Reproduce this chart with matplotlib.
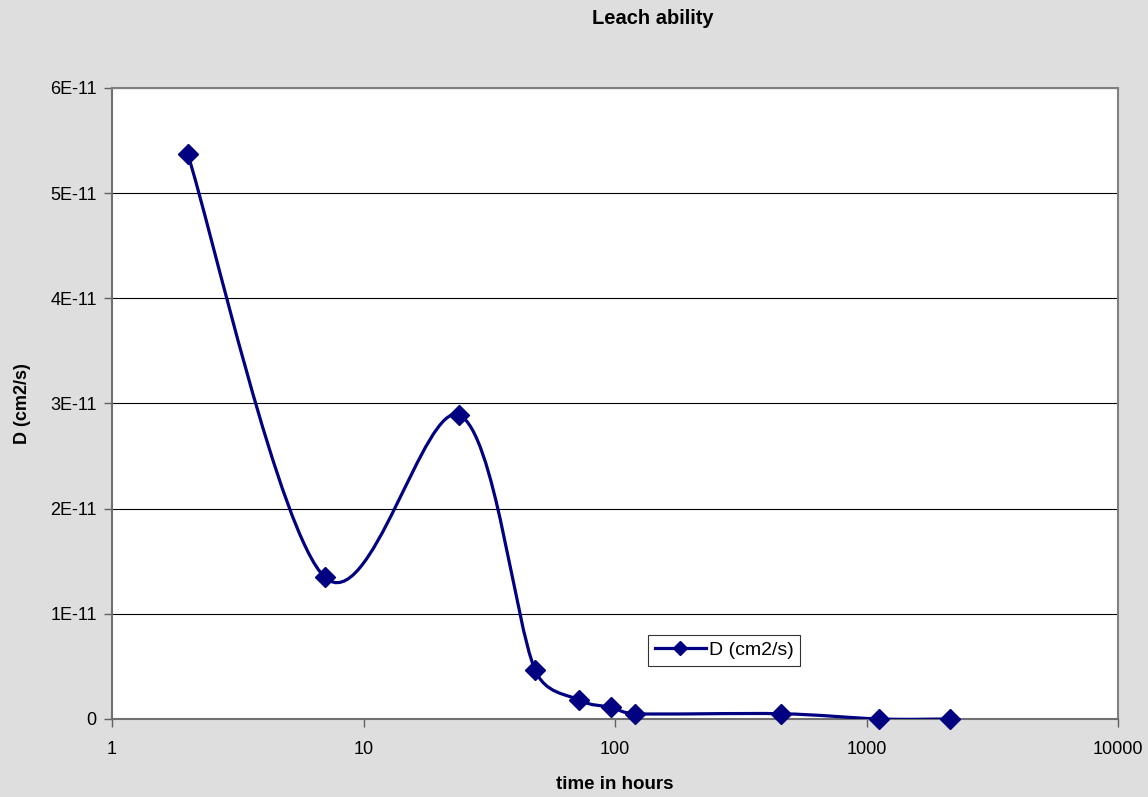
import numpy as np
import matplotlib
matplotlib.use("Agg")
import matplotlib.pyplot as plt
from matplotlib.path import Path
from matplotlib.patches import PathPatch
from matplotlib.lines import Line2D
from matplotlib.ticker import FixedLocator, FixedFormatter, NullLocator

plt.rcParams['font.family'] = ['Liberation Sans', 'DejaVu Sans']

# data
time_hours = [2, 7, 24, 48, 72, 96, 120, 456, 1120, 2150]
diff_coef = [5.37e-11, 1.35e-11, 2.89e-11, 0.47e-11, 0.18e-11, 0.11e-11,
             0.05e-11, 0.05e-11, 0.0, 0.0]
y_ticks = [0, 1e-11, 2e-11, 3e-11, 4e-11, 5e-11, 6e-11]
y_tick_labels = ['0', '1E-11', '2E-11', '3E-11', '4E-11', '5E-11', '6E-11']
x_ticks = [1, 10, 100, 1000, 10000]
x_tick_labels = ['1', '10', '100', '1000', '10000']

navy = '#000080'
bg = '#dedede'

fig = plt.figure(figsize=(11.48, 7.97), dpi=100, facecolor=bg)
ax = fig.add_axes([0.0976, 0.0979, 0.8763, 0.7917])
ax.set_facecolor('white')
ax.set_xscale('log')
ax.set_xlim(1, 10000)
ax.set_ylim(0, 6e-11)

# Excel-style smoothed line: bezier segments built in display space,
# handle length 1/6 of the chord, capped at half the segment length
pts = ax.transData.transform(np.column_stack([time_hours, diff_coef]))
padded = np.vstack([pts[0], pts, pts[-1]])
verts = [pts[0]]
codes = [Path.MOVETO]
for i in range(len(pts) - 1):
    p0, p1, p2, p3 = padded[i], padded[i + 1], padded[i + 2], padded[i + 3]
    d12 = np.hypot(*(p2 - p1))
    d02 = np.hypot(*(p2 - p0))
    d13 = np.hypot(*(p3 - p1))
    f1 = 1 / 6 if d02 / 6 < d12 / 2 or d02 == 0 else d12 / (2 * d02)
    f2 = 1 / 6 if d13 / 6 < d12 / 2 or d13 == 0 else d12 / (2 * d13)
    c1 = p1 + (p2 - p0) * f1
    c2 = p2 - (p3 - p1) * f2
    verts += [c1, c2, p2]
    codes += [Path.CURVE4] * 3
verts = ax.transData.inverted().transform(np.array(verts))
curve = PathPatch(Path(verts, codes), transform=ax.transData, fill=False,
                  edgecolor=navy, linewidth=2.3, zorder=3, capstyle='round',
                  joinstyle='round')
ax.add_patch(curve)
ax.plot(time_hours, diff_coef, linestyle='none', marker='D', markersize=10,
        color=navy, zorder=4, clip_on=False)

# grid and frame
ax.yaxis.set_major_locator(FixedLocator(y_ticks))
ax.yaxis.set_major_formatter(FixedFormatter(y_tick_labels))
ax.xaxis.set_major_locator(FixedLocator(x_ticks))
ax.xaxis.set_major_formatter(FixedFormatter(x_tick_labels))
ax.xaxis.set_minor_locator(NullLocator())
ax.grid(axis='y', color='black', linewidth=0.8)
ax.set_axisbelow(True)
for side in ['top', 'right']:
    ax.spines[side].set_color('#808080')
    ax.spines[side].set_linewidth(1.5)
for side in ['left', 'bottom']:
    ax.spines[side].set_color('#707070')
    ax.spines[side].set_linewidth(1.5)
ax.tick_params(axis='both', direction='out', length=6, width=1,
               color='#606060', labelsize=13, pad=5)
ax.tick_params(axis='x', pad=10)

ax.set_xlabel('time in hours', fontsize=13.5, fontweight='bold', labelpad=13)
ax.set_ylabel('D (cm2/s)', fontsize=13, fontweight='bold', labelpad=14)
fig.text(0.569, 0.977, 'Leach ability', fontsize=14.5, fontweight='bold',
         ha='center', va='center')

handle = Line2D([], [], color=navy, linewidth=2.3, marker='D', markersize=7)
leg = ax.legend([handle], ['D (cm2/s)'], loc='lower left',
                bbox_to_anchor=(0.533, 0.084), fontsize=14, frameon=True,
                fancybox=False, handlelength=2.6, handletextpad=0.15,
                borderpad=0.35, borderaxespad=0)
leg.get_frame().set_edgecolor('black')
leg.get_frame().set_linewidth(0.8)

fig.savefig('out.png', dpi=100, facecolor=bg)
